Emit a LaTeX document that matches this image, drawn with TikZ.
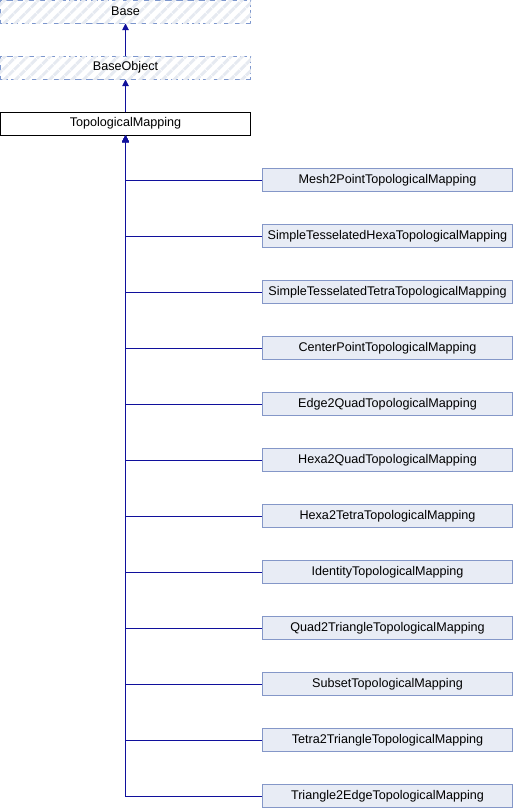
\documentclass[tikz,border=0pt]{standalone}
\usepackage{fontspec}
\setmainfont{Liberation Sans}
\usetikzlibrary{arrows.meta,patterns.meta}
\definecolor{edgeblue}{HTML}{10109C}
\definecolor{boxfill}{HTML}{E8ECF5}
\definecolor{boxline}{HTML}{8497C8}
\definecolor{dashline}{HTML}{7C96CD}
\definecolor{hatchcol}{HTML}{E6EAF1}
\begin{document}
\begin{tikzpicture}[x=0.75pt,y=-0.75pt,
  cls/.style={rectangle,minimum width=188pt,minimum height=17.25pt,inner sep=0pt,
    font=\fontsize{9.45pt}{11pt}\selectfont},
  child/.style={cls,draw=boxline,fill=boxfill,line width=0.75pt},
  mainbox/.style={cls,draw=black,fill=white,line width=0.75pt},
  ext/.style={cls,draw=dashline,line width=0.75pt,dash pattern=on 5.5pt off 2.5pt,
    postaction={pattern={Lines[angle=45,distance=6pt,line width=2.2pt]},pattern color=hatchcol}},
  edge/.style={draw=edgeblue,line width=0.75pt,{Triangle[length=5pt,width=5pt]}-}]
\useasboundingbox (0,0) rectangle (514,808);
\node[ext] (base) at (125.5,11.5) {Base};
\node[ext] (bo) at (125.5,67.5) {BaseObject};
\node[mainbox] (tm) at (125.5,123.5) {TopologicalMapping};
\draw[edge] (base.south) -- (bo.north);
\draw[edge] (bo.south) -- (tm.north);
\foreach \i/\t in {0/Mesh2PointTopologicalMapping,1/SimpleTesselatedHexaTopologicalMapping,
  2/SimpleTesselatedTetraTopologicalMapping,3/CenterPointTopologicalMapping,
  4/Edge2QuadTopologicalMapping,5/Hexa2QuadTopologicalMapping,
  6/Hexa2TetraTopologicalMapping,7/IdentityTopologicalMapping,
  8/Quad2TriangleTopologicalMapping,9/SubsetTopologicalMapping,
  10/Tetra2TriangleTopologicalMapping,11/Triangle2EdgeTopologicalMapping}{
  \node[child] (c\i) at (387.5,{180+56*\i}) {\t};
  \draw[edge] (tm.south) |- (c\i.west);
}
\end{tikzpicture}
\end{document}
